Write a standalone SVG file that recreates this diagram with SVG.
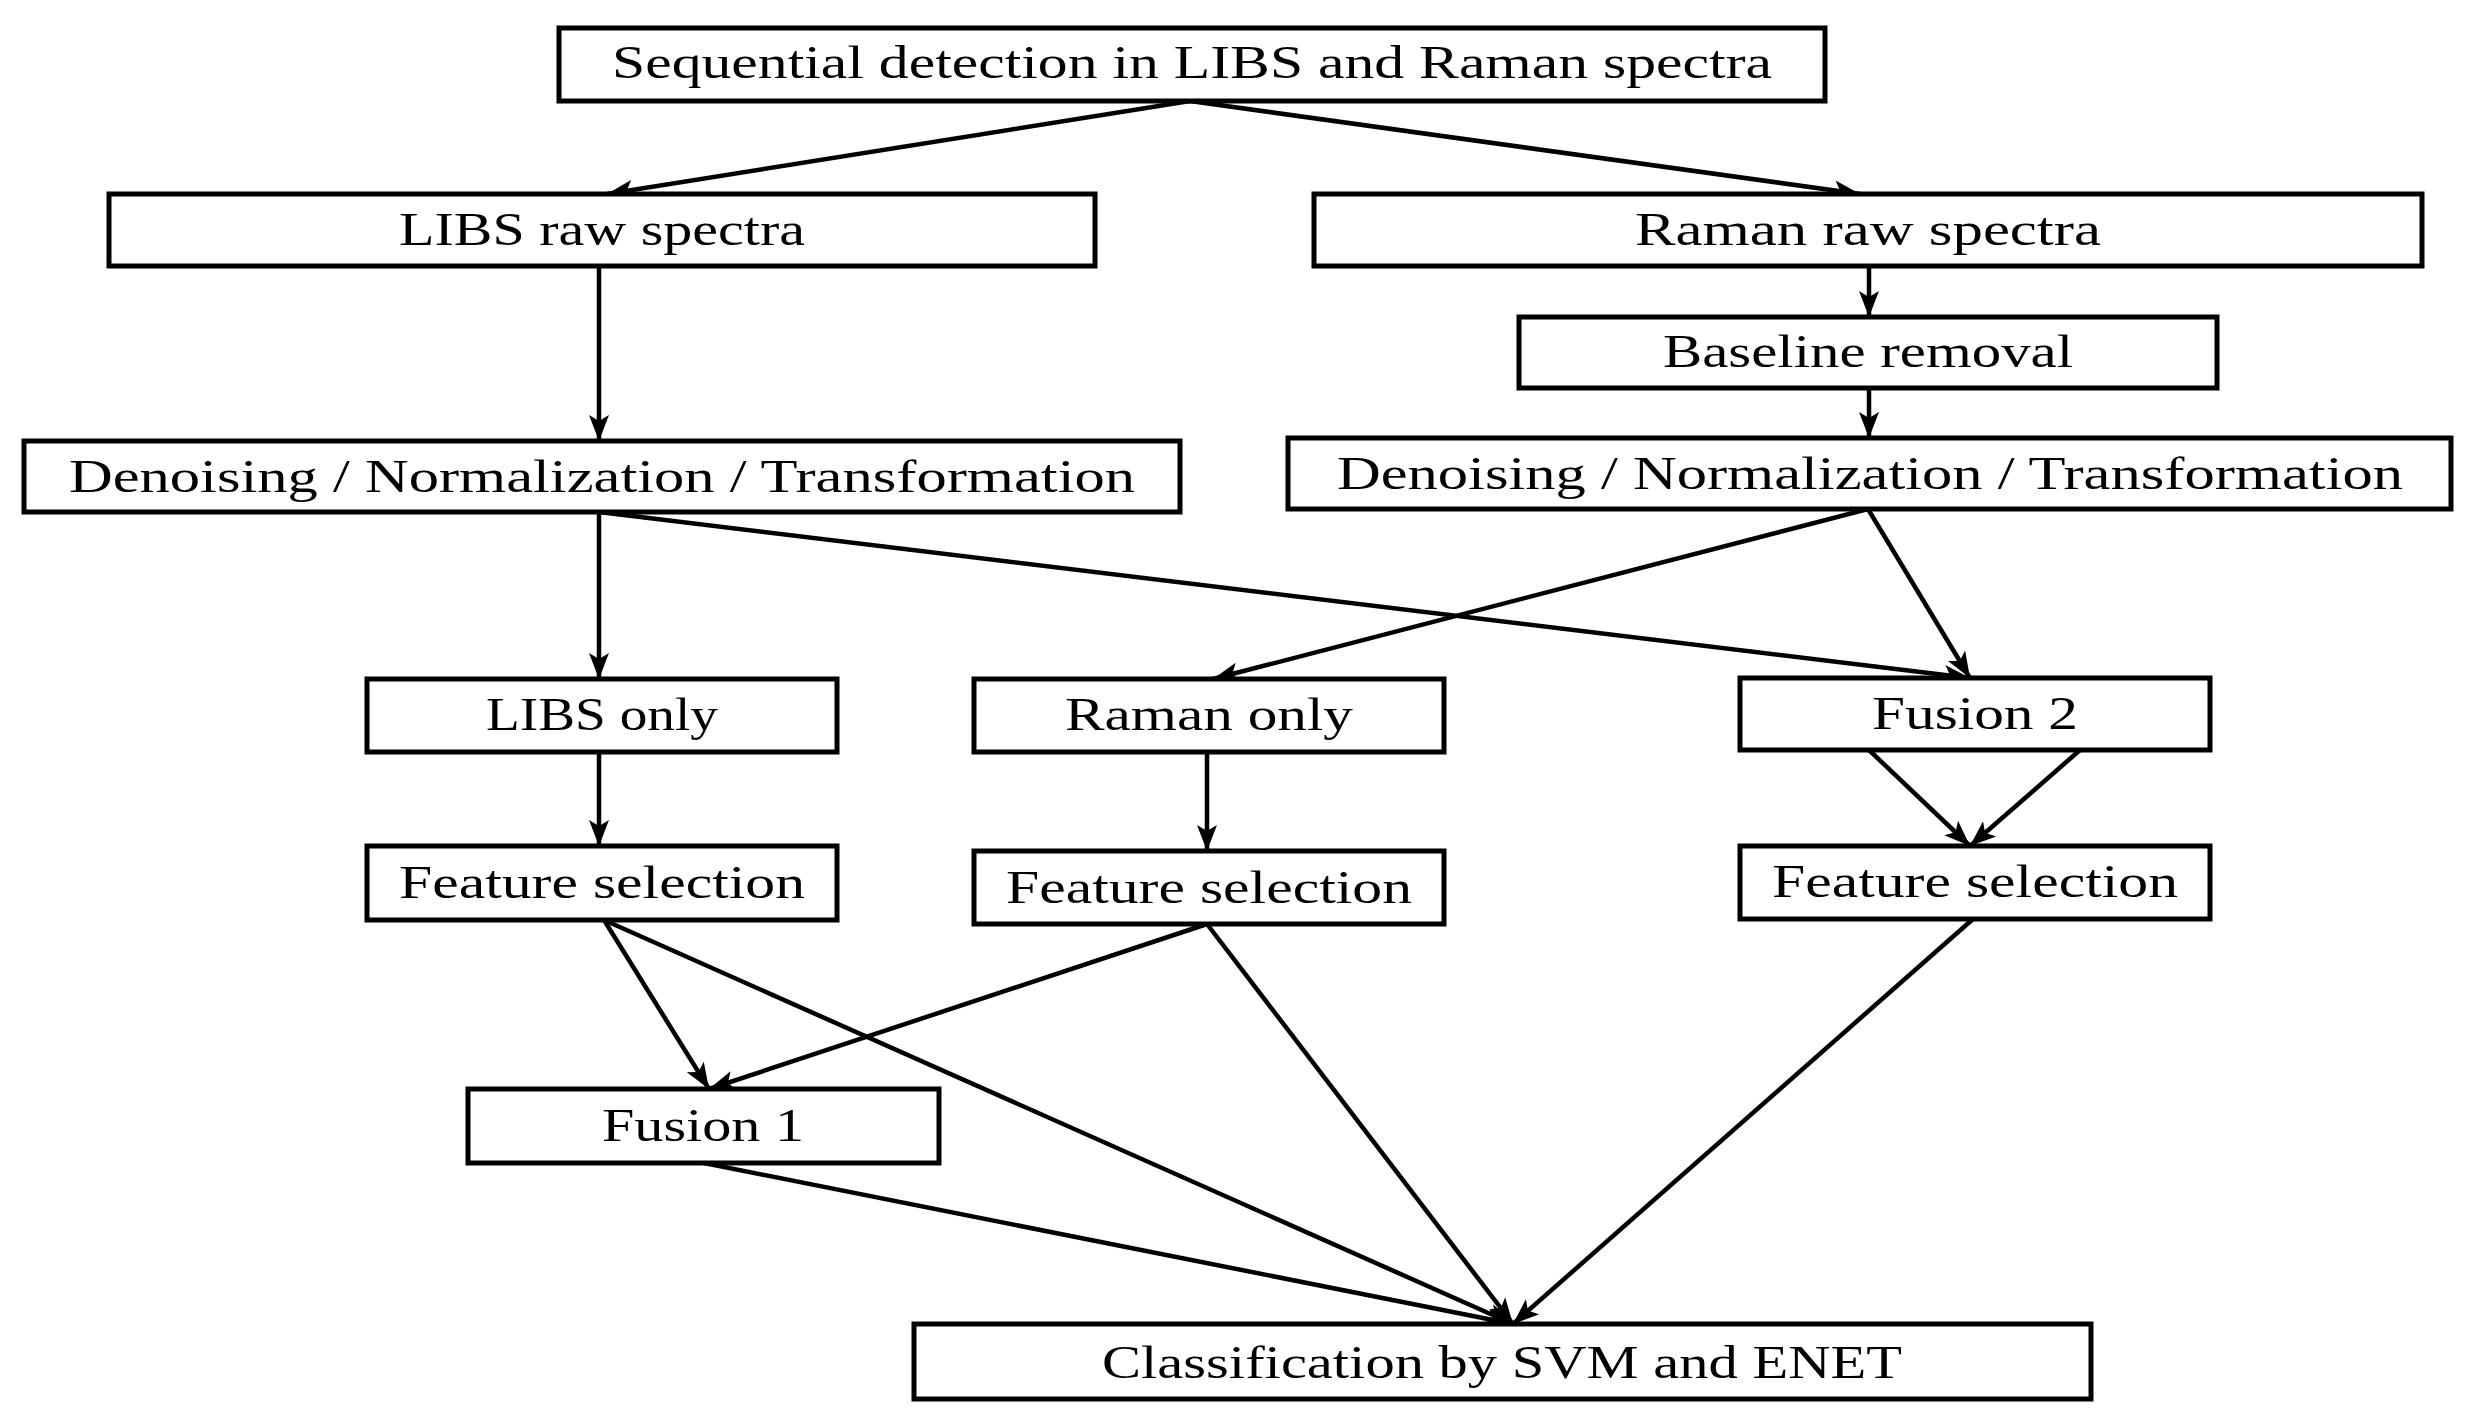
<svg xmlns="http://www.w3.org/2000/svg" width="2471" height="1425" viewBox="0 0 2471 1425">
<style>
rect{fill:#fff;stroke:#000;stroke-width:5}
text{font-family:"Liberation Serif",serif;font-size:47px;fill:#000;text-anchor:middle}
line{stroke:#000;stroke-width:4.5;marker-end:url(#a)}
</style>
<defs><marker id="a" markerUnits="userSpaceOnUse" markerWidth="30" markerHeight="24" refX="26" refY="12" orient="auto"><path d="M0,2 L26,12 L0,22 L6,12 Z" fill="#000"/></marker></defs>
<rect x="0" y="0" width="2471" height="1425" style="stroke:none"/>
<g id="connectors">
<line x1="1190" y1="101" x2="607" y2="194"/>
<line x1="1190" y1="101" x2="1860" y2="194"/>
<line x1="599" y1="266" x2="599" y2="441"/>
<line x1="1869" y1="266" x2="1869" y2="317"/>
<line x1="1869" y1="388" x2="1869" y2="438"/>
<line x1="599" y1="512" x2="599" y2="679"/>
<line x1="599" y1="512" x2="1970" y2="678"/>
<line x1="1868" y1="509" x2="1213" y2="679"/>
<line x1="1868" y1="509" x2="1970" y2="678"/>
<line x1="599" y1="752" x2="599" y2="846"/>
<line x1="1207" y1="752" x2="1207" y2="851"/>
<line x1="1869" y1="750" x2="1970" y2="846"/>
<line x1="2080" y1="750" x2="1970" y2="846"/>
<line x1="604" y1="920" x2="709" y2="1089"/>
<line x1="604" y1="920" x2="1513" y2="1324"/>
<line x1="1207" y1="924" x2="709" y2="1089"/>
<line x1="1207" y1="924" x2="1513" y2="1324"/>
<line x1="1973" y1="919" x2="1513" y2="1324"/>
<line x1="704" y1="1163" x2="1513" y2="1324"/>
</g>
<g id="top"><rect x="559" y="28" width="1266" height="73"/><text x="1192" y="78" textLength="1160" lengthAdjust="spacingAndGlyphs">Sequential detection in LIBS and Raman spectra</text></g>
<g id="libsraw"><rect x="109" y="194" width="986" height="72"/><text x="602" y="245" textLength="406" lengthAdjust="spacingAndGlyphs">LIBS raw spectra</text></g>
<g id="ramanraw"><rect x="1314" y="194" width="1108" height="72"/><text x="1868" y="245" textLength="466" lengthAdjust="spacingAndGlyphs">Raman raw spectra</text></g>
<g id="baseline"><rect x="1519" y="317" width="698" height="71"/><text x="1868" y="367" textLength="410" lengthAdjust="spacingAndGlyphs">Baseline removal</text></g>
<g id="denoiseL"><rect x="24" y="441" width="1156" height="71"/><text x="602" y="492" textLength="1066" lengthAdjust="spacingAndGlyphs">Denoising / Normalization / Transformation</text></g>
<g id="denoiseR"><rect x="1288" y="438" width="1163" height="71"/><text x="1870" y="489" textLength="1066" lengthAdjust="spacingAndGlyphs">Denoising / Normalization / Transformation</text></g>
<g id="libsonly"><rect x="367" y="679" width="470" height="73"/><text x="602" y="730" textLength="232" lengthAdjust="spacingAndGlyphs">LIBS only</text></g>
<g id="ramanonly"><rect x="974" y="679" width="470" height="73"/><text x="1209" y="730" textLength="288" lengthAdjust="spacingAndGlyphs">Raman only</text></g>
<g id="fusion2"><rect x="1740" y="678" width="470" height="72"/><text x="1975" y="729" textLength="206" lengthAdjust="spacingAndGlyphs">Fusion 2</text></g>
<g id="fsL"><rect x="367" y="846" width="470" height="74"/><text x="602" y="898" textLength="406" lengthAdjust="spacingAndGlyphs">Feature selection</text></g>
<g id="fsM"><rect x="974" y="851" width="470" height="73"/><text x="1209" y="903" textLength="406" lengthAdjust="spacingAndGlyphs">Feature selection</text></g>
<g id="fsR"><rect x="1740" y="846" width="470" height="73"/><text x="1975" y="897" textLength="406" lengthAdjust="spacingAndGlyphs">Feature selection</text></g>
<g id="fusion1"><rect x="468" y="1089" width="471" height="74"/><text x="703" y="1141" textLength="202" lengthAdjust="spacingAndGlyphs">Fusion 1</text></g>
<g id="classify"><rect x="914" y="1324" width="1177" height="75"/><text x="1502" y="1378" textLength="800" lengthAdjust="spacingAndGlyphs">Classification by SVM and ENET</text></g>
</svg>
